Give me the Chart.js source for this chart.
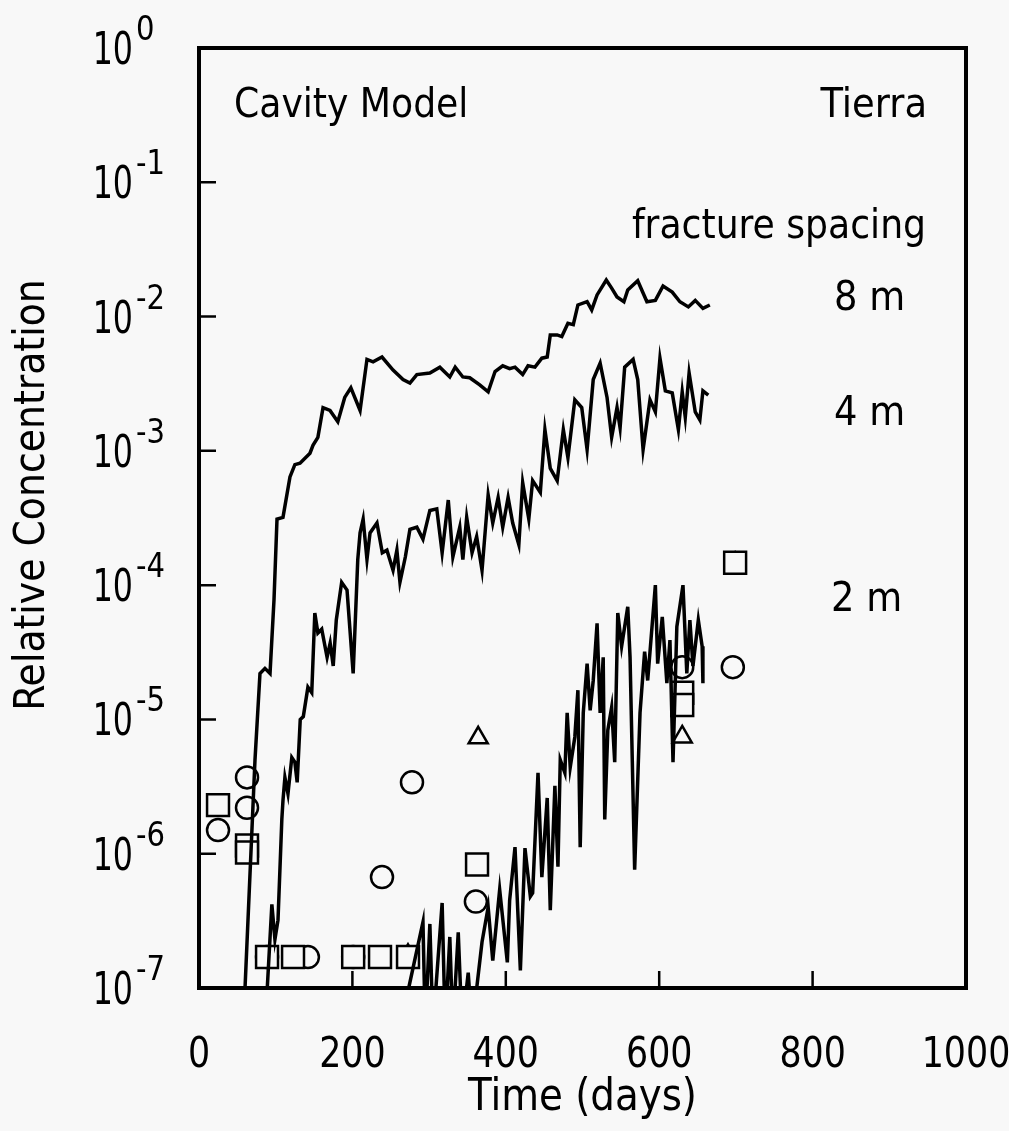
<!DOCTYPE html>
<html>
<head>
<meta charset="utf-8">
<script src="https://cdn.jsdelivr.net/npm/chart.js@4/dist/chart.umd.min.js"></script>
<style>
  body { margin: 0; background: #f8f8f8; }
  canvas { display: block; }
</style>
</head>
<body>
<canvas id="chart" width="1009" height="1131"></canvas>
<script>
// [days, relative concentration]
const curve8m = [
  [60,1e-7],[73,5.0e-6],[79.5,2.2e-5],[86,2.4e-5],[92.6,2.2e-5],[97.8,7.8e-5],[101.7,3.1e-4],[109.5,3.2e-4],
  [118.6,6.4e-4],[125,7.9e-4],[131.7,8.1e-4],[144.7,9.6e-4],[148.6,1.1e-3],[155,1.26e-3],[161.7,2.1e-3],
  [170.8,2.0e-3],[181,1.65e-3],[190,2.5e-3],[198,2.95e-3],[210,2.0e-3],[219,4.8e-3],[227,4.6e-3],
  [238.6,5.0e-3],[253,4.0e-3],[266,3.4e-3],[275,3.2e-3],[284,3.7e-3],[301,3.8e-3],[314,4.2e-3],
  [327,3.55e-3],[334,4.2e-3],[344,3.55e-3],[353,3.5e-3],[366,3.1e-3],[377,2.75e-3],[386,3.9e-3],
  [396,4.3e-3],[405,4.1e-3],[412,4.2e-3],[422,3.7e-3],[429,4.3e-3],[438,4.2e-3],[447,4.9e-3],
  [454,5.0e-3],[458,7.3e-3],[467,7.3e-3],[473,7.1e-3],[481,8.9e-3],[488,8.7e-3],[494,1.22e-2],
  [506,1.29e-2],[512,1.12e-2],[519,1.45e-2],[531,1.87e-2],[538,1.63e-2],[545,1.40e-2],[554,1.29e-2],
  [559,1.58e-2],[572,1.85e-2],[584,1.29e-2],[595,1.32e-2],[605,1.69e-2],[617,1.52e-2],[627,1.29e-2],
  [638,1.18e-2],[647,1.32e-2],[657,1.15e-2],[666,1.22e-2]
]

const curve4m = [
  [89,1e-7],[95,4.2e-7],[99,2.3e-7],[103,3.2e-7],[108,1.8e-6],[109.5,2.5e-6],[112,3.7e-6],[116,2.8e-6],
  [121,5.2e-6],[125,4.8e-6],[128,3.4e-6],[132,1.0e-5],[136,1.05e-5],[142,1.74e-5],[147,1.58e-5],
  [151,6.2e-5],[155,4.4e-5],[160,4.7e-5],[167,2.9e-5],[171,3.7e-5],[175,2.5e-5],[179,5.5e-5],
  [186,1.05e-4],[193,9.2e-5],[201,2.2e-5],[207,1.55e-4],[210,2.45e-4],[214,3.1e-4],[219,1.55e-4],
  [223,2.45e-4],[232,2.9e-4],[239,1.74e-4],[245,1.82e-4],[253,1.29e-4],[258,1.82e-4],[262,1.05e-4],
  [269,1.62e-4],[275,2.6e-4],[284,2.7e-4],[292,2.2e-4],[301,3.6e-4],[310,3.7e-4],[317,1.74e-4],
  [325,4.3e-4],[331,1.62e-4],[340,2.7e-4],[344,1.55e-4],[349,3.2e-4],[356,1.74e-4],[362,2.3e-4],
  [369,1.29e-4],[377,4.7e-4],[383,2.9e-4],[390,4.5e-4],[396,2.7e-4],[403,4.5e-4],[409,2.9e-4],
  [417,2.0e-4],[422,5.8e-4],[430,3.1e-4],[435,6.0e-4],[445,4.9e-4],[451,1.44e-3],[458,7.4e-4],
  [467,6.0e-4],[475,1.44e-3],[481,8.9e-4],[490,2.4e-3],[499,2.1e-3],[506,1.02e-3],[514,3.4e-3],
  [523,4.5e-3],[532,2.5e-3],[538,1.26e-3],[545,2.1e-3],[549,1.48e-3],[555,4.2e-3],[566,4.8e-3],
  [572,3.4e-3],[579,1.02e-3],[588,2.4e-3],[595,1.95e-3],[601,4.9e-3],[608,2.8e-3],[617,2.7e-3],
  [625,1.44e-3],[630,2.75e-3],[634,1.78e-3],[639,3.8e-3],[647,1.95e-3],[653,1.70e-3],[657,2.8e-3],
  [664,2.6e-3]
]

// values under 1e-7 run off the bottom of the axis
const curve2m = [
  [262,5e-8],[292,3.1e-7],[295,5e-8],[301,3.0e-7],[305,5e-8],[317,4.3e-7],[321,5e-8],[327,2.4e-7],
  [331,5e-8],[338,2.6e-7],[343,5e-8],[351,1.3e-7],[356,5e-8],[369,2.2e-7],[377,4.0e-7],[383,1.6e-7],
  [392,5.4e-7],[402,1.55e-7],[405,4.5e-7],[412,1.12e-6],[419,1.35e-7],[425,1.1e-6],[432,4.8e-7],
  [435,5.1e-7],[442,4.0e-6],[447,6.7e-7],[454,2.6e-6],[458,3.8e-7],[464,3.2e-6],[468,8.0e-7],
  [471,5.0e-6],[477,4.0e-6],[480,1.12e-5],[484,4.4e-6],[490,7.4e-6],[494,1.65e-5],[497,1.12e-6],
  [501,1.12e-5],[506,2.6e-5],[510,1.17e-5],[514,1.95e-5],[519,5.2e-5],[523,1.12e-5],[527,2.9e-5],
  [529,1.8e-6],[533,8.3e-6],[538,1.23e-5],[542,4.8e-6],[546,6.2e-5],[551,3.5e-5],[559,6.9e-5],
  [562,2.9e-5],[568,7.6e-7],[575,1.12e-5],[581,3.2e-5],[585,1.95e-5],[595,1.0e-4],[598,2.6e-5],
  [604,5.8e-5],[610,1.86e-5],[614,3.9e-5],[618,4.8e-6],[623,4.9e-5],[631,1.0e-4],[636,2.2e-5],
  [640,5.5e-5],[644,2.5e-5],[651,5.5e-5],[656,3.5e-5],[657,1.86e-5]
]

const circlePts = [
  [24.8,1.5e-6],[62.6,3.7e-6],[62.6,2.2e-6],[88.7,1.7e-7],[142,1.7e-7],[201,1.7e-7],
  [238.6,6.7e-7],[277.7,3.4e-6],[361,4.4e-7],[630,2.45e-5],[696,2.45e-5]
]
const squarePts = [
  [24.8,2.3e-6],[62.6,1.15e-6],[62.6,1.02e-6],[88.7,1.7e-7],[122.6,1.7e-7],[201,1.7e-7],
  [236,1.7e-7],[272.5,1.7e-7],[362.5,8.3e-7],[630,1.58e-5],[630,1.28e-5],[699,1.47e-4]
]
const trianglePts = [
  [272.5,1.75e-7],[364,7.3e-6],[630,7.4e-6],[699,1.45e-4]
]

const xTicks = [0, 200, 400, 600, 800, 1000]
const yExponents = [0, -1, -2, -3, -4, -5, -6, -7]

const FONT = '"Liberation Sans Narrow", "DejaVu Sans Condensed", sans-serif'
const BG = '#f8f8f8'

const toXY = pts => pts.map(p => ({x: p[0], y: p[1]}))

function lineSet(pts) {
  return {
    type: 'line', data: toXY(pts), borderColor: '#000', borderWidth: 3.5,
    pointRadius: 0, tension: 0, fill: false
  }
}

function markerSet(pts, style, radius) {
  return {
    type: 'scatter', data: toXY(pts), pointStyle: style, pointRadius: radius,
    borderColor: '#000', backgroundColor: BG, pointBorderWidth: 2.5
  }
}

// text squeezed horizontally by sx, to get closer to the narrow original type
function text(ctx, str, x, y, align, size, sx) {
  ctx.save()
  ctx.translate(x, y)
  ctx.scale(sx, 1)
  ctx.font = size + 'px ' + FONT
  ctx.textAlign = align
  ctx.textBaseline = 'alphabetic'
  ctx.fillText(str, 0, 0)
  ctx.restore()
}

const decorations = {
  id: 'decorations',
  beforeDraw(chart) {
    const ctx = chart.ctx
    ctx.save()
    ctx.fillStyle = BG
    ctx.fillRect(0, 0, chart.width, chart.height)
    ctx.restore()
  },
  afterDraw(chart) {
    const ctx = chart.ctx
    const a = chart.chartArea
    const xs = chart.scales.x
    const ys = chart.scales.y
    ctx.save()
    ctx.strokeStyle = '#000'
    ctx.fillStyle = '#000'

    // frame
    ctx.lineWidth = 4
    ctx.strokeRect(a.left, a.top, a.right - a.left, a.bottom - a.top)

    // inward ticks
    ctx.lineWidth = 2.5
    ctx.beginPath()
    yExponents.forEach(e => {
      if (e === 0 || e === -7) return
      const py = ys.getPixelForValue(Math.pow(10, e))
      ctx.moveTo(a.left, py)
      ctx.lineTo(a.left + 17, py)
    })
    xTicks.forEach(v => {
      if (v === 0 || v === 1000) return
      const px = xs.getPixelForValue(v)
      ctx.moveTo(px, a.bottom)
      ctx.lineTo(px, a.bottom - 17)
    })
    ctx.stroke()

    // y tick labels 10^n
    yExponents.forEach(e => {
      const py = ys.getPixelForValue(Math.pow(10, e))
      text(ctx, '10', a.left - 66, py + 16, 'right', 44, 0.8)
      text(ctx, e === 0 ? '0' : '-' + (-e), a.left - 63, py - 8, 'left', 34, 0.95)
    })

    // x tick labels
    xTicks.forEach(v => {
      text(ctx, String(v), xs.getPixelForValue(v), 1067, 'center', 43, 0.9)
    })

    // axis titles
    text(ctx, 'Time (days)', (a.left + a.right) / 2, 1110, 'center', 44, 0.98)
    ctx.save()
    ctx.translate(44, 495)
    ctx.rotate(-Math.PI / 2)
    text(ctx, 'Relative Concentration', 0, 0, 'center', 42, 1)
    ctx.restore()

    // annotations
    text(ctx, 'Cavity Model', 234, 117, 'left', 41, 0.98)
    text(ctx, '8 m', 834, 310, 'left', 41, 1)
    text(ctx, '4 m', 834, 425, 'left', 41, 1)
    text(ctx, '2 m', 831, 611, 'left', 41, 1)
    text(ctx, 'Tierra', 927, 117, 'right', 41, 1)
    text(ctx, 'fracture spacing', 926, 238, 'right', 41, 0.98)
    ctx.restore()
  }
}

new Chart(document.getElementById('chart'), {
  data: {
    datasets: [
      lineSet(curve8m),
      lineSet(curve4m),
      lineSet(curve2m),
      markerSet(squarePts, 'rect', 15.5),
      markerSet(circlePts, 'circle', 11),
      markerSet(trianglePts, 'triangle', 11)
    ]
  },
  options: {
    responsive: false,
    animation: false,
    layout: {padding: {left: 199, right: 43, top: 48, bottom: 143}},
    plugins: {legend: {display: false}, tooltip: {enabled: false}},
    scales: {
      x: {type: 'linear', min: 0, max: 1000, display: false},
      y: {type: 'logarithmic', min: 1e-7, max: 1, display: false}
    }
  },
  plugins: [decorations]
})
</script>
</body>
</html>
